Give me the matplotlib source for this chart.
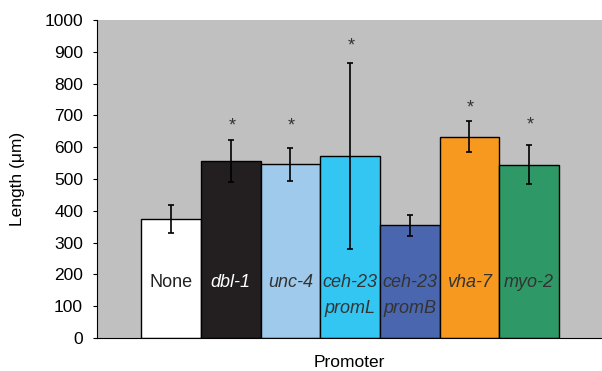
import matplotlib
matplotlib.use("Agg")
import matplotlib.pyplot as plt
import numpy as np

# Data
promoters = ["None", "dbl-1", "unc-4", "ceh-23\npromL", "ceh-23\npromB", "vha-7", "myo-2"]
lengths = [375, 556, 547, 573, 355, 633, 545]
errors = [44, 66, 52, 292, 33, 48, 61]
significant = [False, True, True, True, False, True, True]
star_level = [None, 668, 668, 918, None, 724, 669]

COLOURS = ["#FFFFFF", "#231F20", "#9FCAEB", "#33C6F3", "#4A66AE", "#F7991F", "#2E9966"]
TEXT_COLOURS = ["#222222", "#FFFFFF", "#333333", "#333333", "#333333", "#333333", "#333333"]
BG = "#C0C0C0"

plt.rcParams["font.family"] = ["Liberation Sans", "DejaVu Sans"]

fig = plt.figure(figsize=(6.02, 3.71), dpi=100)
ax = fig.add_axes([0.161, 0.089, 0.839, 0.857])
ax.set_facecolor(BG)

x = np.arange(len(promoters))
ax.bar(x, lengths, width=1.0, color=COLOURS, edgecolor="black", linewidth=1.0, zorder=2)
ax.errorbar(x, lengths, yerr=errors, fmt="none", ecolor="black", elinewidth=1.2,
            capsize=2.3, capthick=1.2, zorder=3)

for i, (name, sig, lvl) in enumerate(zip(promoters, significant, star_level)):
    style = "normal" if name == "None" else "italic"
    ax.text(x[i], 173, name.split("\n")[0], ha="center", va="center",
            fontsize=13, style=style, color=TEXT_COLOURS[i], zorder=4)
    if "\n" in name:
        ax.text(x[i], 94, name.split("\n")[1], ha="center", va="center",
                fontsize=13, style=style, color=TEXT_COLOURS[i], zorder=4)
    if sig:
        ax.text(x[i] + 0.02, lvl, "*", ha="center", va="center", fontsize=13,
                color="#333333", zorder=4)

ax.set_xlim(-1.24, 7.22)
ax.set_ylim(0, 1000)
ax.set_yticks(np.arange(0, 1001, 100))
ax.tick_params(axis="y", labelsize=12.5, length=3, width=0.8, direction="out", pad=7)
ax.set_xticks([])
for side in ("top", "right"):
    ax.spines[side].set_visible(False)
ax.spines["left"].set_linewidth(0.8)
ax.spines["bottom"].set_linewidth(0.8)

ax.set_ylabel("Length (μm)", fontsize=12.5, labelpad=14)
ax.set_xlabel("Promoter", fontsize=12.5, labelpad=12)

fig.savefig("out.png", dpi=100)
